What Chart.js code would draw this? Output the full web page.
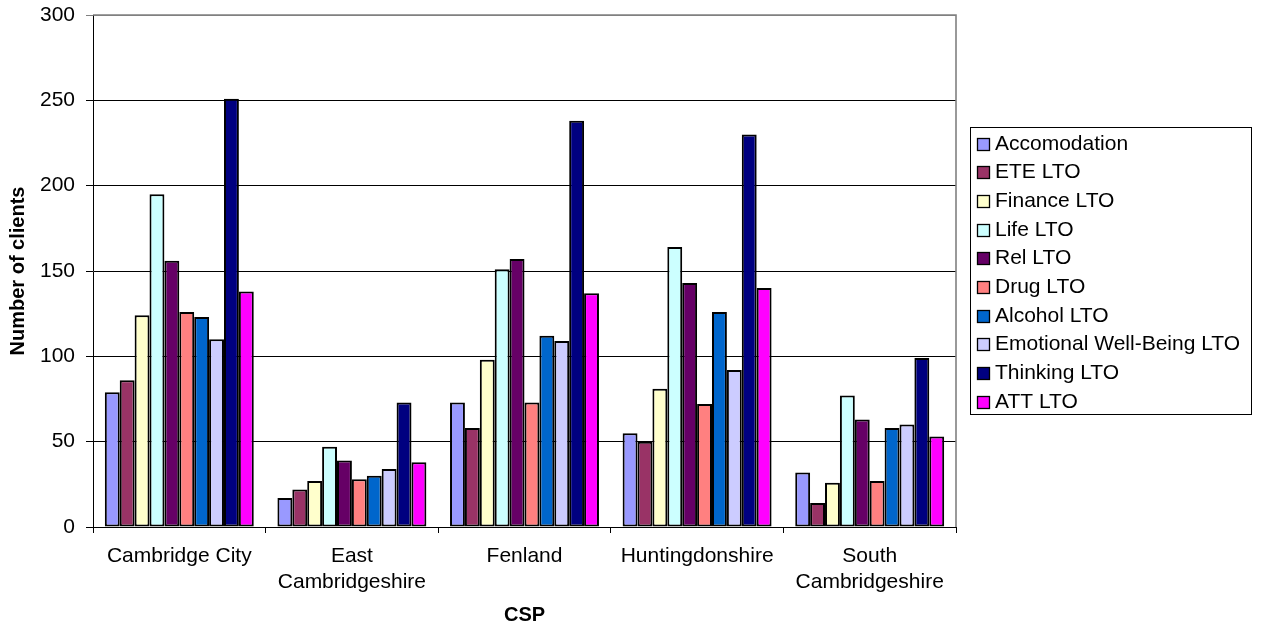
<!DOCTYPE html>
<html>
<head>
<meta charset="utf-8">
<script src="https://cdn.jsdelivr.net/npm/chart.js@4/dist/chart.umd.min.js"></script>
<style>
  html, body { margin: 0; padding: 0; background: #ffffff; }
  #wrap { width: 1262px; height: 631px; }
</style>
</head>
<body>
<div id="wrap"><canvas id="chart" width="1262" height="631"></canvas></div>
<script>
// Client counts per Community Supervision Partnership area
const categories = ['Cambridge City', ['East', 'Cambridgeshire'], 'Fenland', 'Huntingdonshire', ['South', 'Cambridgeshire']];
const seriesNames = ['Accomodation', 'ETE LTO', 'Finance LTO', 'Life LTO', 'Rel LTO', 'Drug LTO', 'Alcohol LTO', 'Emotional Well-Being LTO', 'Thinking LTO', 'ATT LTO'];
const accomodation = [79, 17, 73, 55, 32];
const eteLTO       = [86, 22, 58, 50, 14];
const financeLTO   = [124, 27, 98, 81, 26];
const lifeLTO      = [195, 47, 151, 164, 77];
const relLTO       = [156, 39, 157, 143, 63];
const drugLTO      = [126, 28, 73, 72, 27];
const alcoholLTO   = [123, 30, 112, 126, 58];
const emotionalLTO = [110, 34, 109, 92, 60];
const thinkingLTO  = [251, 73, 238, 230, 99];
const attLTO       = [138, 38, 137, 140, 53];
const yTicks = [0, 50, 100, 150, 200, 250, 300];

const seriesValues = [accomodation, eteLTO, financeLTO, lifeLTO, relLTO, drugLTO, alcoholLTO, emotionalLTO, thinkingLTO, attLTO];
const seriesColors = ['#9999FF', '#993366', '#FFFFCC', '#CCFFFF', '#660066', '#FF8080', '#0066CC', '#CCCCFF', '#000080', '#FF00FF'];

const FONT = '"Liberation Sans", Arial, Helvetica, sans-serif';
Chart.defaults.font.family = FONT;
Chart.defaults.font.size = 21;
Chart.defaults.color = '#000000';

// Grey frame on the top and right of the plot area
const plotFrame = {
  id: 'plotFrame',
  afterDatasetsDraw(chart) {
    const { ctx, chartArea: a } = chart;
    ctx.save();
    ctx.strokeStyle = '#808080';
    ctx.lineWidth = 1.6;
    ctx.beginPath();
    ctx.moveTo(a.left, a.top);
    ctx.lineTo(a.right, a.top);
    ctx.lineTo(a.right, a.bottom);
    ctx.stroke();
    ctx.restore();
  }
};

// Boxed legend to the right of the plot
const boxLegend = {
  id: 'boxLegend',
  afterDraw(chart) {
    const ctx = chart.ctx;
    const x0 = 970, y0 = 127, w = 281, h = 287;
    const firstY = 144, step = 28.67, sw = 13;
    ctx.save();
    ctx.fillStyle = '#ffffff';
    ctx.fillRect(x0, y0, w, h);
    ctx.strokeStyle = '#000000';
    ctx.lineWidth = 1;
    ctx.strokeRect(x0 + 0.5, y0 + 0.5, w, h);
    ctx.font = '21px ' + FONT;
    ctx.textBaseline = 'middle';
    ctx.textAlign = 'left';
    chart.data.datasets.forEach((ds, i) => {
      const cy = firstY + i * step;
      const top = Math.round(cy - sw / 2);
      ctx.fillStyle = ds.backgroundColor;
      ctx.fillRect(977, top, sw, sw);
      ctx.strokeStyle = '#000000';
      ctx.lineWidth = 1.3;
      ctx.strokeRect(977.5, top + 0.5, sw - 1, sw - 1);
      ctx.fillStyle = '#000000';
      ctx.fillText(ds.label, 995, cy);
    });
    ctx.restore();
  }
};

new Chart(document.getElementById('chart'), {
  type: 'bar',
  data: {
    labels: categories,
    datasets: seriesNames.map((name, i) => ({
      label: name,
      data: seriesValues[i],
      backgroundColor: seriesColors[i],
      borderColor: '#000000',
      borderWidth: 2,
      borderSkipped: false,
      categoryPercentage: 0.863,
      barPercentage: 1.0
    }))
  },
  options: {
    responsive: false,
    animation: false,
    devicePixelRatio: 1,
    layout: { padding: { left: 0, top: 15, right: 306, bottom: 0 } },
    plugins: {
      legend: { display: false },
      tooltip: { enabled: false }
    },
    scales: {
      x: {
        grid: {
          offset: true,
          drawOnChartArea: false,
          drawTicks: true,
          tickLength: 6,
          color: '#000000'
        },
        border: { display: true, color: '#000000', width: 1 },
        ticks: {
          padding: 11,
          maxRotation: 0,
          autoSkip: false,
          color: '#000000',
          font: { size: 21, lineHeight: 1.2 }
        },
        title: {
          display: true,
          text: 'CSP',
          color: '#000000',
          font: { size: 20, weight: 'bold' },
          padding: { top: 0, bottom: 4 }
        },
        afterFit(scale) {
          scale.height = 104;
          scale.paddingLeft = 0;
          scale.paddingRight = 0;
        }
      },
      y: {
        min: 0,
        max: 300,
        afterBuildTicks(scale) { scale.ticks = yTicks.map(v => ({ value: v })); },
        grid: {
          color: ctx => (ctx.tick && ctx.tick.value === 300 ? '#808080' : '#000000'),
          lineWidth: 1,
          drawTicks: true,
          tickLength: 7
        },
        border: { display: true, color: '#000000', width: 1 },
        ticks: {
          padding: 11,
          color: '#000000',
          font: { size: 21 }
        },
        title: {
          display: true,
          text: 'Number of clients',
          color: '#000000',
          font: { size: 20, weight: 'bold' },
          padding: { top: 6, bottom: 0 }
        },
        afterFit(scale) {
          scale.width = 93;
          scale.paddingTop = 0;
          scale.paddingBottom = 0;
        }
      }
    }
  },
  plugins: [plotFrame, boxLegend]
});
</script>
</body>
</html>
